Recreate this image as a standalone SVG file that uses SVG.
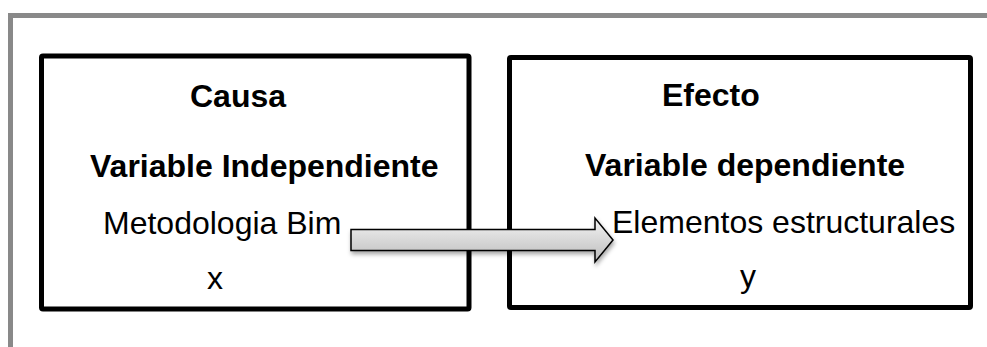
<svg xmlns="http://www.w3.org/2000/svg" width="987" height="347" viewBox="0 0 987 347">
  <style>
    .frame { fill: none; stroke: #898989; stroke-width: 5; }
    .box { fill: #ffffff; stroke: #000000; stroke-width: 5; }
    .title { font-family: "Liberation Sans", Arial, sans-serif; font-size: 32px; font-weight: bold; fill: #000000; }
    .label { font-family: "Liberation Sans", Arial, sans-serif; font-size: 32px; fill: #000000; }
    .arrow { fill: url(#arrowFill); stroke: #000000; stroke-width: 1.5; stroke-linejoin: miter; }
  </style>
  <defs>
    <linearGradient id="arrowFill" x1="0" y1="0" x2="0" y2="1">
      <stop offset="0" stop-color="#f4f4f4"/>
      <stop offset="1" stop-color="#bcbcbc"/>
    </linearGradient>
    <filter id="shadow" x="-5%" y="-30%" width="110%" height="170%">
      <feDropShadow dx="1" dy="3" stdDeviation="2" flood-color="#000000" flood-opacity="0.35"/>
    </filter>
  </defs>

  <rect width="987" height="347" fill="#ffffff"/>

  <!-- page frame: top and left rules -->
  <path class="frame" d="M10.5 347 V15.5 H987"/>

  <g id="causa">
    <rect class="box" x="41.5" y="56" width="427.5" height="253" rx="1.5"/>
    <text class="title" x="190" y="106.5">Causa</text>
    <text class="title" x="90" y="176.5">Variable Independiente</text>
    <text class="label" x="103" y="233.5">Metodologia Bim</text>
    <text class="label" x="207" y="288.5">x</text>
  </g>

  <g id="efecto">
    <rect class="box" x="509.5" y="57.5" width="461" height="250" rx="1.5"/>
    <text class="title" x="662" y="106">Efecto</text>
    <text class="title" x="585" y="176">Variable dependiente</text>
    <text class="label" x="612" y="233">Elementos estructurales</text>
    <text class="label" x="740" y="286.5">y</text>
  </g>

  <g id="connectors">
    <polygon class="arrow" filter="url(#shadow)" points="351,229.5 595,229.5 595,218 613,240 595,262 595,250.5 351,250.5"/>
  </g>
</svg>
